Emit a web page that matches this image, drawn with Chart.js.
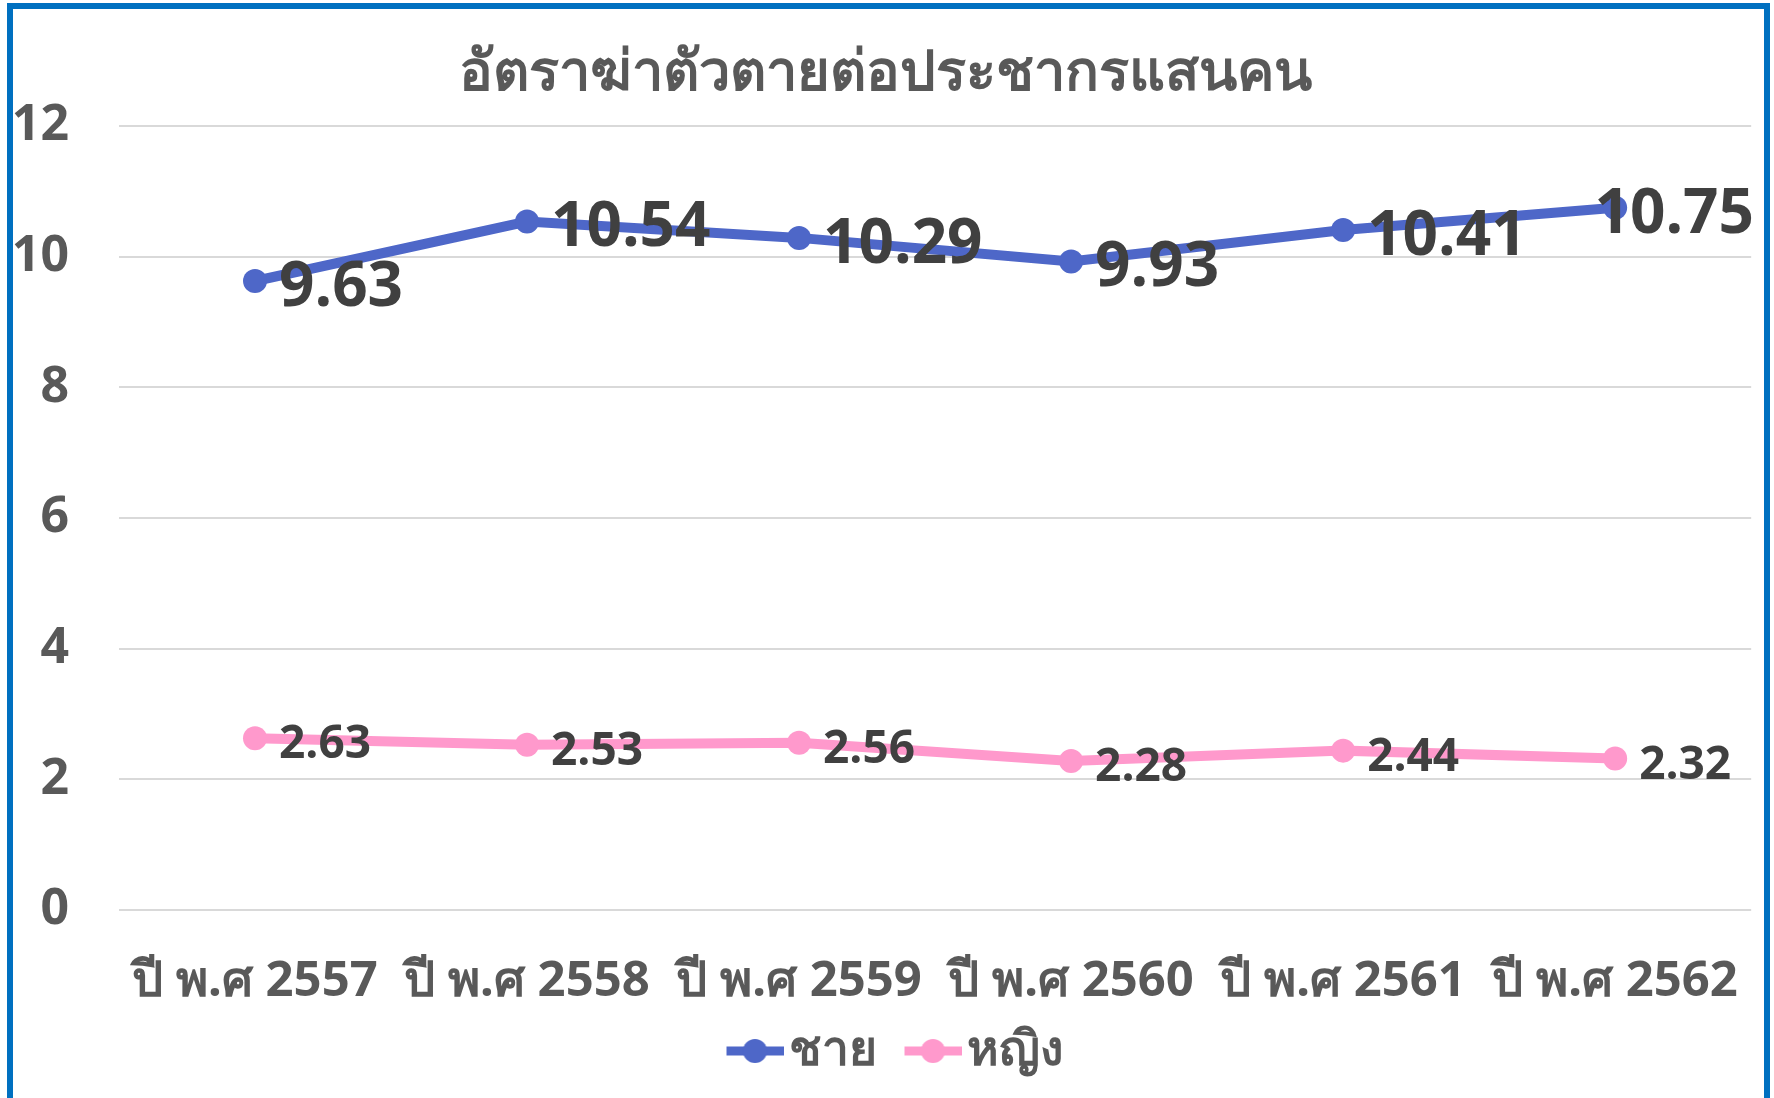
<!DOCTYPE html>
<html lang="th">
<head>
<meta charset="utf-8">
<title>อัตราฆ่าตัวตายต่อประชากรแสนคน</title>
<script src="https://cdn.jsdelivr.net/npm/chart.js@4.4.0/dist/chart.umd.min.js"></script>
<style>
  html, body { margin: 0; padding: 0; background: #fff; overflow: hidden; }
  #wrap { position: relative; width: 1774px; height: 1098px; }
  #frame { position: absolute; left: 7px; top: 3px; width: 1751px; height: 1200px; border: 6px solid #0070c0; pointer-events: none; }
</style>
</head>
<body>
<div id="wrap">
  <canvas id="rateChart" width="1774" height="1098"></canvas>
  <div id="frame"></div>
</div>
<script>
// Veriler
const years = ['ปี พ.ศ 2557', 'ปี พ.ศ 2558', 'ปี พ.ศ 2559', 'ปี พ.ศ 2560', 'ปี พ.ศ 2561', 'ปี พ.ศ 2562'];
const maleRates = [9.63, 10.54, 10.29, 9.93, 10.41, 10.75];
const femaleRates = [2.63, 2.53, 2.56, 2.28, 2.44, 2.32];
const seriesNames = ['ชาย', 'หญิง'];
const yMax = 12;
const yStep = 2;

const blue = '#4e67c8';
const pink = '#ff99cc';
const grayText = '#595959';
const narrow = '"Liberation Sans Narrow", "Noto Sans", sans-serif';

// legend icon: a short line with a dot on it
function legendIcon(color) {
    const c = document.createElement('canvas');
    c.width = 95;
    c.height = 30;
    const g = c.getContext('2d');
    g.strokeStyle = color;
    g.lineWidth = 9;
    g.beginPath();
    g.moveTo(38, 15);
    g.lineTo(95, 15);
    g.stroke();
    g.fillStyle = color;
    g.beginPath();
    g.arc(66.5, 15, 12, 0, Math.PI * 2);
    g.fill();
    return c;
}

// value labels to the right of each point
const valueLabels = {
    id: 'valueLabels',
    afterDatasetsDraw(chart) {
        const ctx = chart.ctx;
        chart.data.datasets.forEach((ds, i) => {
            const meta = chart.getDatasetMeta(i);
            ctx.save();
            ctx.font = 'bold ' + ds.labelSize + 'px "Open Sans", sans-serif';
            ctx.fillStyle = '#404040';
            ctx.textBaseline = 'middle';
            meta.data.forEach((pt, j) => {
                const text = ds.data[j].toFixed(2);
                const w = ctx.measureText(text).width;
                let x = pt.x + 24;
                if (x + w > chart.width - 20) x = chart.width - 20 - w; // keep inside
                ctx.fillText(text, x, pt.y + 7);
            });
            ctx.restore();
        });
    }
};

const ctx = document.getElementById('rateChart').getContext('2d');
new Chart(ctx, {
    type: 'line',
    data: {
        labels: years,
        datasets: [{
            label: seriesNames[0],
            data: maleRates,
            borderColor: blue,
            backgroundColor: blue,
            borderWidth: 10,
            pointRadius: 12,
            pointBorderWidth: 0,
            labelSize: 62
        }, {
            label: seriesNames[1],
            data: femaleRates,
            borderColor: pink,
            backgroundColor: pink,
            borderWidth: 10,
            pointRadius: 12,
            pointBorderWidth: 0,
            labelSize: 46
        }]
    },
    options: {
        responsive: false,
        animation: false,
        layout: { padding: { left: 10, right: 14, top: 20, bottom: 13 } },
        plugins: {
            title: {
                display: true,
                text: 'อัตราฆ่าตัวตายต่อประชากรแสนคน',
                color: grayText,
                font: { family: narrow, size: 56, weight: 'bold' },
                padding: { top: 20, bottom: 19 }
            },
            legend: {
                position: 'bottom',
                labels: {
                    color: grayText,
                    font: { family: narrow, size: 48, weight: 'bold' },
                    usePointStyle: true,
                    pointStyleWidth: 57,
                    padding: 9,
                    generateLabels(chart) {
                        return chart.data.datasets.map((ds, i) => ({
                            text: ds.label,
                            pointStyle: legendIcon(ds.borderColor),
                            fontColor: grayText,
                            lineWidth: 0,
                            datasetIndex: i
                        }));
                    }
                }
            },
            tooltip: { enabled: false }
        },
        scales: {
            x: {
                offset: true,
                grid: { display: false },
                border: { display: false },
                ticks: {
                    color: grayText,
                    font: { family: narrow, size: 49, weight: 'bold' },
                    padding: 35,
                    maxRotation: 0
                },
                afterFit(scale) { scale.height = 108; }
            },
            y: {
                min: 0,
                max: yMax,
                grid: { color: '#d9d9d9', lineWidth: 2, drawTicks: false },
                border: { display: false },
                ticks: {
                    stepSize: yStep,
                    color: grayText,
                    font: { family: narrow, size: 50, weight: 'bold' },
                    padding: 50
                },
                afterFit(scale) { scale.width = 109; }
            }
        }
    },
    plugins: [valueLabels]
});
</script>
</body>
</html>
